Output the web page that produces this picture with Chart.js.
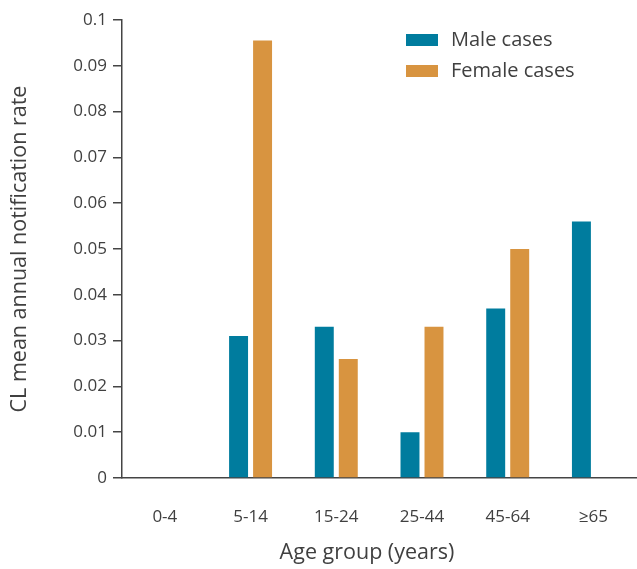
<!DOCTYPE html>
<html lang="en">
<head>
<meta charset="UTF-8">
<title>CL notification rate by age group</title>
<style>
    html, body { margin: 0; padding: 0; background: #fff; }
    .chart-box { width: 637px; height: 569px; }
</style>
</head>
<body>
<div class="chart-box"><canvas id="rateChart"></canvas></div>

<script src="https://cdn.jsdelivr.net/npm/chart.js"></script>
<script>
    // datos
    const ageGroups = ['0-4', '5-14', '15-24', '25-44', '45-64', '≥65'];
    const maleRates = [0, 0.031, 0.033, 0.010, 0.037, 0.056];
    const femaleRates = [0, 0.0955, 0.026, 0.033, 0.050, 0];
    const yTicks = [0, 0.01, 0.02, 0.03, 0.04, 0.05, 0.06, 0.07, 0.08, 0.09, 0.1];
    const xTitle = 'Age group (years)';
    const yTitle = 'CL mean annual notification rate';

    const maleColor = '#007c9e';
    const femaleColor = '#d89440';
    const textColor = '#404040';
    const fontFamily = "'Open Sans', sans-serif";

    // leyenda y titulo del eje x dibujados a mano
    const extrasPlugin = {
        id: 'extras',
        afterDraw(chart) {
            const ctx = chart.ctx;
            ctx.save();
            ctx.font = '20px ' + fontFamily;
            ctx.textBaseline = 'middle';
            chart.data.datasets.forEach((ds, i) => {
                const y = 34 + i * 31;
                ctx.fillStyle = ds.backgroundColor;
                ctx.fillRect(406, y, 32, 12);
                ctx.fillStyle = textColor;
                ctx.fillText(ds.label, 451, y + 6);
            });
            ctx.font = '21.5px ' + fontFamily;
            ctx.textAlign = 'center';
            ctx.fillText(xTitle, 367, 553);
            ctx.restore();
        }
    };

    const ctx = document.getElementById('rateChart').getContext('2d');
    const rateChart = new Chart(ctx, {
        type: 'bar',
        data: {
            labels: ageGroups,
            datasets: [{
                label: 'Male cases',
                data: maleRates,
                backgroundColor: maleColor
            }, {
                label: 'Female cases',
                data: femaleRates,
                backgroundColor: femaleColor
            }]
        },
        options: {
            responsive: true,
            maintainAspectRatio: false,
            animation: false,
            categoryPercentage: 0.56,
            barPercentage: 0.79,
            layout: { padding: { top: 20, right: 0, left: 0, bottom: 0 } },
            plugins: {
                legend: { display: false },
                tooltip: { enabled: false }
            },
            scales: {
                x: {
                    grid: { display: true, drawOnChartArea: false, drawTicks: false },
                    border: { display: true, color: '#444', width: 1.5 },
                    ticks: {
                        color: textColor,
                        font: { family: fontFamily, size: 17 },
                        padding: 29
                    },
                    afterFit(scale) { scale.height = 91; }
                },
                y: {
                    min: 0,
                    max: 0.1,
                    afterBuildTicks(scale) {
                        scale.ticks = yTicks.map(v => ({ value: v }));
                    },
                    grid: { display: true, drawOnChartArea: false, drawTicks: true, tickLength: 9, color: '#444', lineWidth: 1.5 },
                    border: { display: true, color: '#444', width: 1.5 },
                    ticks: {
                        color: textColor,
                        font: { family: fontFamily, size: 17 },
                        padding: 6,
                        callback: v => String(+v.toFixed(2))
                    },
                    title: {
                        display: true,
                        text: yTitle,
                        color: textColor,
                        font: { family: fontFamily, size: 21.5 },
                        padding: { top: 7, bottom: 0 }
                    },
                    afterFit(scale) { scale.width = 122; }
                }
            }
        },
        plugins: [extrasPlugin]
    });
</script>
</body>
</html>
